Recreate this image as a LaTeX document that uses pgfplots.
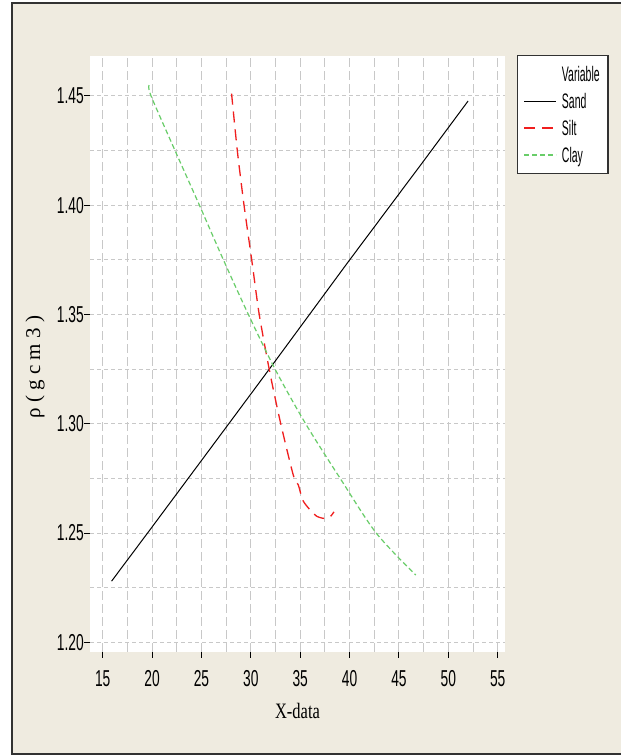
\documentclass[border=0pt]{standalone}
\usepackage{pgfplots}
\pgfplotsset{compat=1.18}
\usepackage{fontspec}
\setmainfont{Liberation Sans}
\newfontfamily\tickfont{Liberation Sans}[FakeStretch=0.6]
\newfontfamily\legfont{Liberation Sans}[FakeStretch=0.5]
\newfontfamily\labfont{Liberation Serif}[FakeStretch=0.75]
\newfontfamily\ylabfont{Liberation Serif}
\definecolor{bgbeige}{RGB}{239,235,224}
\definecolor{gridgray}{RGB}{200,200,200}
\definecolor{framedark}{RGB}{50,50,50}
\definecolor{siltred}{RGB}{240,30,30}
\definecolor{claygreen}{RGB}{105,205,105}
\begin{document}
\begin{tikzpicture}
\useasboundingbox (0pt,0pt) rectangle (621pt,756pt);
\fill[white] (0pt,0pt) rectangle (621pt,756pt);
\draw[fill=bgbeige, draw=framedark, line width=2pt] (12pt,2pt) rectangle (660pt,753pt);
\begin{axis}[
  at={(90pt,104pt)}, anchor=south west,
  scale only axis, width=415pt, height=596pt,
  xmin=13.714, xmax=55.74, ymin=1.1956, ymax=1.4682,
  axis line style={draw=none},
  axis background/.style={fill=white},
  xtick={15,20,...,55},
  ytick={1.20,1.25,1.30,1.35,1.40,1.45},
  minor xtick={17.5,22.5,27.5,32.5,37.5,42.5,47.5,52.5},
  minor ytick={1.225,1.275,1.325,1.375,1.425},
  grid=both,
  major x grid style={gridgray, line width=0.9pt, dash pattern=on 9pt off 4pt},
  minor x grid style={gridgray, line width=0.9pt, dash pattern=on 9pt off 4pt},
  major y grid style={gridgray, line width=0.9pt, dash pattern=on 4pt off 3pt},
  minor y grid style={gridgray, line width=0.9pt, dash pattern=on 4pt off 3pt},
  tick pos=left,
  tick align=outside,
  major tick length=6pt, minor tick length=0pt,
  major tick style={black, line width=1pt},
  /pgf/number format/assume math mode=true,
  xticklabel style={font=\tickfont\fontsize{23}{23}\selectfont, inner sep=0pt, anchor=north, yshift=-12pt},
  yticklabel style={font=\tickfont\fontsize{23}{23}\selectfont, inner sep=0pt, anchor=east, xshift=0pt,
    /pgf/number format/fixed, /pgf/number format/fixed zerofill, /pgf/number format/precision=2},
  legend image code/.code={\draw[#1] (0pt,0pt) -- (32pt,0pt);},
  legend cell align=left,
  legend style={at={(rel axis cs:1.029,1.0017)}, anchor=north west,
    draw=framedark, line width=1.2pt, fill=white,
    font=\legfont\fontsize{21}{21}\selectfont,
    inner xsep=6pt, inner ysep=5pt, row sep=0pt, column sep=5pt,
    nodes={inner sep=0pt, minimum height=27pt, text depth=0pt, text width=40pt}},
]
\addlegendimage{empty legend}
\addlegendentry{Variable}
\addplot[black, line width=1pt] coordinates {
 (15.9,1.228) (19.79,1.2515) (27.9,1.3008) (31.94,1.3254) (39.87,1.3741) (47.47,1.4200) (52.0,1.4476)
};
\addlegendentry{Sand}
\addplot[siltred, line width=1.3pt, dash pattern=on 11pt off 7pt, smooth, tension=0.4] coordinates {
 (28.05,1.451) (28.63,1.425) (29.31,1.400) (30.09,1.375) (30.85,1.350) (31.94,1.3231)
 (33.03,1.300) (34.30,1.2765) (34.81,1.272) (35.25,1.2651) (35.92,1.261) (36.67,1.2577)
 (37.41,1.2567) (38.02,1.2574) (38.42,1.2597)
};
\addlegendentry{Silt}
\addplot[claygreen, line width=1.2pt, dash pattern=on 5pt off 3pt, smooth, tension=0.5] coordinates {
 (19.69,1.4549) (19.89,1.450) (22.32,1.425) (24.79,1.400) (27.22,1.375) (29.75,1.350)
 (32.45,1.325) (35.55,1.300) (39.05,1.275) (42.7,1.250) (46.70,1.2308)
};
\addlegendentry{Clay}
\end{axis}
\node[font=\labfont\fontsize{22}{22}\selectfont] at (297.5pt,45pt) {X-data};
\node[font=\ylabfont\fontsize{21}{21}\selectfont, rotate=90] at (35pt,389pt) {ρ ( g c m 3 )};
\end{tikzpicture}
\end{document}
